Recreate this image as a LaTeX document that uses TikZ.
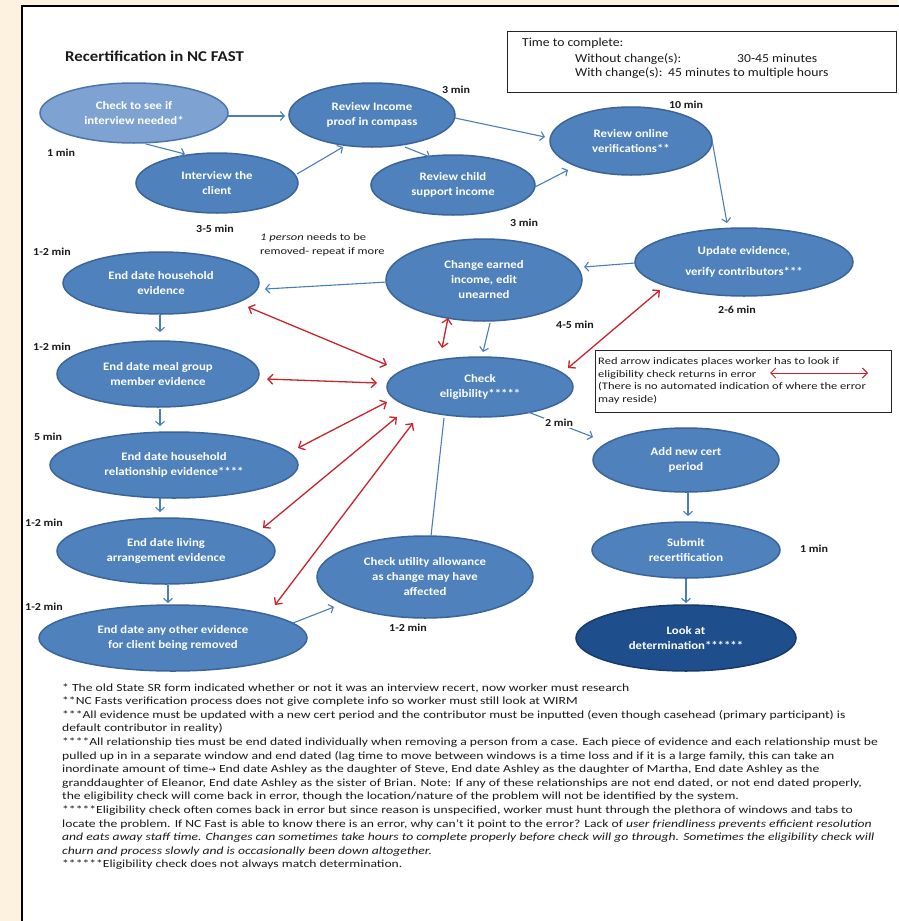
\documentclass[tikz,border=0pt]{standalone}
\usepackage{fontspec}
\setmainfont{Carlito}[FakeStretch=1.12]
\newfontfamily\widefam{Carlito}[FakeStretch=1.25]
\newfontfamily\symfont{DejaVu Sans}
\usetikzlibrary{arrows.meta,calc,shapes.geometric}

\definecolor{cream}{HTML}{FDF2DF}
\definecolor{ellfill}{HTML}{4F81BD}
\definecolor{elldraw}{HTML}{3B659A}
\definecolor{lightfill}{HTML}{7EA2D1}
\definecolor{lightdraw}{HTML}{4D75AB}
\definecolor{darkfill}{HTML}{1F4E8C}
\definecolor{darkdraw}{HTML}{173A68}
\definecolor{flow}{HTML}{4A7EBB}
\definecolor{errred}{HTML}{C9252B}
\definecolor{inkc}{HTML}{1A1A1A}

\newcommand\myellfont{\fontsize{11.4}{15}\selectfont\bfseries}
\newcommand\mylblfont{\fontsize{10.7}{13}\selectfont\bfseries}
\newcommand\myfnfont{\widefam\fontsize{10.9}{13.6}\selectfont}
\newcommand\mylegfont{\widefam\fontsize{10}{12.4}\selectfont}
\newcommand\mytimefont{\fontsize{12.2}{15}\selectfont}

\begin{document}
\begin{tikzpicture}[x=1pt,y=-1pt,
  ellnode/.style={ellipse, fill=ellfill, draw=elldraw, line width=1.5pt, inner sep=0pt, text=white, align=center, font=\myellfont},
  esize/.style 2 args={minimum width=#1pt, minimum height=#2pt},
  flowarrow/.style={draw=flow, line width=1.1pt, -{Straight Barb[length=4pt,width=9pt]}},
  flowline/.style={draw=flow, line width=1.1pt},
  errarrow/.style={draw=errred, line width=1.3pt, {Straight Barb[length=5pt,width=10pt]}-{Straight Barb[length=5pt,width=10pt]}},
  lbl/.style={font=\mylblfont, text=inkc, inner sep=1pt},
  fnote/.style={font=\myfnfont, text=inkc, anchor=base west, inner sep=0pt},
  legtxt/.style={font=\mylegfont, text=inkc, anchor=base west, inner sep=0pt},
  timetxt/.style={font=\mytimefont, text=inkc, anchor=base west, inner sep=0pt}
]
\useasboundingbox (0,0) rectangle (898,921);
\fill[cream] (0,0) rectangle (898,921);
\draw[line width=2pt, fill=white] (21.5,5.5) rectangle (925,945);

% title
\node[anchor=west, font=\fontsize{15}{18}\selectfont\bfseries, text=inkc, inner sep=0pt] (title) at (65,56) {Recertification in NC FAST};

% time box
\node[draw=black!85, line width=1pt, minimum width=389pt, minimum height=61pt, anchor=north west, inner sep=0pt] (timebox) at (507,31) {};
\node[timetxt] (tc) at (522,46) {Time to complete:};
\node[timetxt] (wo) at (575,62) {Without change(s):};
\node[timetxt] (wov) at (737,62) {30-45 minutes};
\node[timetxt] (wi) at (575,76) {With change(s):};
\node[timetxt] (wiv) at (668,76) {45 minutes to multiple hours};

% ellipses
\node[ellnode, esize={188}{60}, fill=lightfill, draw=lightdraw] (A) at (134,113) {Check to see if\\interview needed*};
\node[ellnode, esize={162}{60}] (B) at (217,183) {Interview the\\client};
\node[ellnode, esize={166}{64}] (C) at (372,115) {Review Income\\proof in compass};
\node[ellnode, esize={164}{60}] (D) at (453,185) {Review child\\support income};
\node[ellnode, esize={162}{68}] (E) at (631,141) {Review online\\verifications**};
\node[ellnode, esize={218}{68}] (F) at (744,262) {Update evidence,\\[6pt]verify contributors***};
\node[ellnode, esize={196}{82}] (G) at (484,280) {Change earned\\income, edit\\unearned};
\node[ellnode, esize={196}{62}] (H) at (161,283) {End date household\\evidence};
\node[ellnode, esize={202}{66}] (I) at (158,374) {End date meal group\\member evidence};
\node[ellnode, esize={186}{60}] (J) at (480,387) {Check\\eligibility*****};
\node[ellnode, esize={248}{66}] (K) at (174,465) {End date household\\relationship evidence****};
\node[ellnode, esize={218}{66}] (L) at (166,551) {End date living\\arrangement evidence};
\node[ellnode, esize={268}{66}] (M) at (173,638) {End date any other evidence\\for client being removed};
\node[ellnode, esize={216}{82}] (N) at (425,577) {Check utility allowance\\as change may have\\affected};
\node[ellnode, esize={186}{64}] (O) at (686,460) {Add new cert\\period};
\node[ellnode, esize={188}{56}] (P) at (686,550) {Submit\\recertification};
\node[ellnode, esize={220}{66}, fill=darkfill, draw=darkdraw] (Q) at (686,638) {Look at\\determination******};

% blue flow arrows
\draw[flowarrow] ($(A)+(94,3)$) -- ($(C)+(-87,1)$);
\draw[flowarrow] ($(A)+(12,31)$) -- ($(B)+(-32,-29)$);
\draw[flowarrow] ($(B)+(80,-9)$) -- ($(C)+(-29,32)$);
\draw[flowarrow] ($(C)+(33,32)$) -- ($(D)+(-23,-28)$);
\draw[flowarrow] ($(C)+(83,3)$) -- ($(E)+(-86,-4)$);
\draw[flowarrow] ($(D)+(82,2)$) -- ($(E)+(-63,29)$);
\draw[flowarrow] ($(E)+(81,-1)$) -- ($(F)+(-17,-39)$);
\draw[flowarrow] ($(F)+(-109,1)$) -- ($(G)+(100,-13)$);
\draw[flowarrow] ($(G)+(-97,2)$) -- ($(H)+(104,6)$);
\draw[flowarrow] ($(G)+(6,43)$) -- ($(J)+(3,-35)$);
\draw[flowarrow] ($(H)+(-1,32)$) -- ($(I)+(2,-42)$);
\draw[flowarrow] ($(I)+(2,35)$) -- ($(K)+(-14,-39)$);
\draw[flowarrow] ($(K)+(-14,33)$) -- ($(L)+(-6,-39)$);
\draw[flowarrow] ($(L)+(2,34)$) -- ($(M)+(-5,-35)$);
\draw[flowarrow] ($(M)+(120,-15)$) -- ($(N)+(-91,30)$);
\draw[flowline] ($(N)+(6,-41)$) -- ($(J)+(-36,31)$);
\draw[flowarrow] ($(J)+(48,25)$) -- ($(O)+(-93,-23)$);
\draw[flowarrow] ($(O)+(2,32)$) -- ($(P)+(2,-34)$);
\draw[flowarrow] ($(P)+(0,29)$) -- ($(Q)+(0,-35)$);

% red error arrows
\draw[errarrow] ($(H)+(87,24)$) -- ($(J)+(-93,-22)$);
\draw[errarrow] ($(I)+(109,5)$) -- ($(J)+(-103,-4)$);
\draw[errarrow] ($(K)+(124,-17)$) -- ($(J)+(-93,15)$);
\draw[errarrow] ($(L)+(97,-23)$) -- ($(J)+(-83,30)$);
\draw[errarrow] ($(M)+(102,-33)$) -- ($(J)+(-67,36)$);
\draw[errarrow] ($(G)+(-36,38)$) -- ($(J)+(-38,-39)$);
\draw[errarrow] ($(F)+(-84,28)$) -- ($(J)+(88,-19)$);

% time labels
\node[lbl] (t1) at (456,90) {3 min};
\node[lbl] (t2) at (61,153) {1 min};
\node[lbl] (t3) at (686,105) {10 min};
\node[lbl] (t4) at (215,229) {3-5 min};
\node[lbl] (t5) at (524,223) {3 min};
\node[lbl] (t6) at (52,252) {1-2 min};
\node[lbl] (t7) at (575,325) {4-5 min};
\node[lbl] (t8) at (737,310) {2-6 min};
\node[lbl] (t9) at (52,347) {1-2 min};
\node[lbl] (t10) at (48,437) {5 min};
\node[lbl] (t11) at (44,523) {1-2 min};
\node[lbl] (t12) at (44,607) {1-2 min};
\node[lbl] (t13) at (408,628) {1-2 min};
\node[lbl, fill=white] (t14) at (559,423) {2 min};
\node[lbl] (t15) at (814,549) {1 min};
\node[legtxt] (note1) at (260,240.5) {\textit{1 person} needs to be};
\node[legtxt] (note2) at (260,254.5) {removed- repeat if more};

% legend
\node[draw=black!85, line width=1pt, minimum width=296pt, minimum height=62pt, inner sep=0pt] (legend) at (743,381) {};
\node[legtxt] (lg1) at (598,364.5) {Red arrow indicates places worker has to look if};
\node[legtxt] (lg2) at (598,377) {eligibility check returns in error};
\node[legtxt] (lg3) at (598,389.5) {(There is no automated indication of where the error};
\node[legtxt] (lg4) at (598,402) {may reside)};
\draw[errarrow, line width=1pt] ($(legend)+(27,-8)$) -- ($(legend)+(125,-8)$);

% footnotes
\node[fnote] (f1) at (62,691) {* The old State SR form indicated whether or not it was an interview recert, now worker must research};
\node[fnote] (f2) at (62,704.6) {**NC Fasts verification process does not give complete info so worker must still look at WIRM};
\node[fnote] (f3) at (62,718.2) {***All evidence must be updated with a new cert period and the contributor must be inputted (even though casehead (primary participant) is};
\node[fnote] (f4) at (62,731.8) {default contributor in reality)};
\node[fnote] (f5) at (62,745.4) {****All relationship ties must be end dated individually when removing a person from a case. Each piece of evidence and each relationship must be};
\node[fnote] (f6) at (62,759) {pulled up in in a separate window and end dated (lag time to move between windows is a time loss and if it is a large family, this can take an};
\node[fnote] (f7) at (62,772.6) {inordinate amount of time{\symfont\fontsize{9}{10}\selectfont →} End date Ashley as the daughter of Steve, End date Ashley as the daughter of Martha, End date Ashley as the};
\node[fnote] (f8) at (62,786.2) {granddaughter of Eleanor, End date Ashley as the sister of Brian. Note: If any of these relationships are not end dated, or not end dated properly,};
\node[fnote] (f9) at (62,799.8) {the eligibility check will come back in error, though the location/nature of the problem will not be identified by the system.};
\node[fnote] (f10) at (62,813.4) {*****Eligibility check often comes back in error but since reason is unspecified, worker must hunt through the plethora of windows and tabs to};
\node[fnote] (f11) at (62,827) {locate the problem. If NC Fast is able to know there is an error, why can’t it point to the error? Lack of \textit{user friendliness prevents efficient resolution}};
\node[fnote] (f12) at (62,840.6) {\textit{and eats away staff time. Changes can sometimes take hours to complete properly before check will go through. Sometimes the eligibility check will}};
\node[fnote] (f13) at (62,854.2) {\textit{churn and process slowly and is occasionally been down altogether.}};
\node[fnote] (f14) at (62,867.8) {******Eligibility check does not always match determination.};
\end{tikzpicture}
\end{document}
